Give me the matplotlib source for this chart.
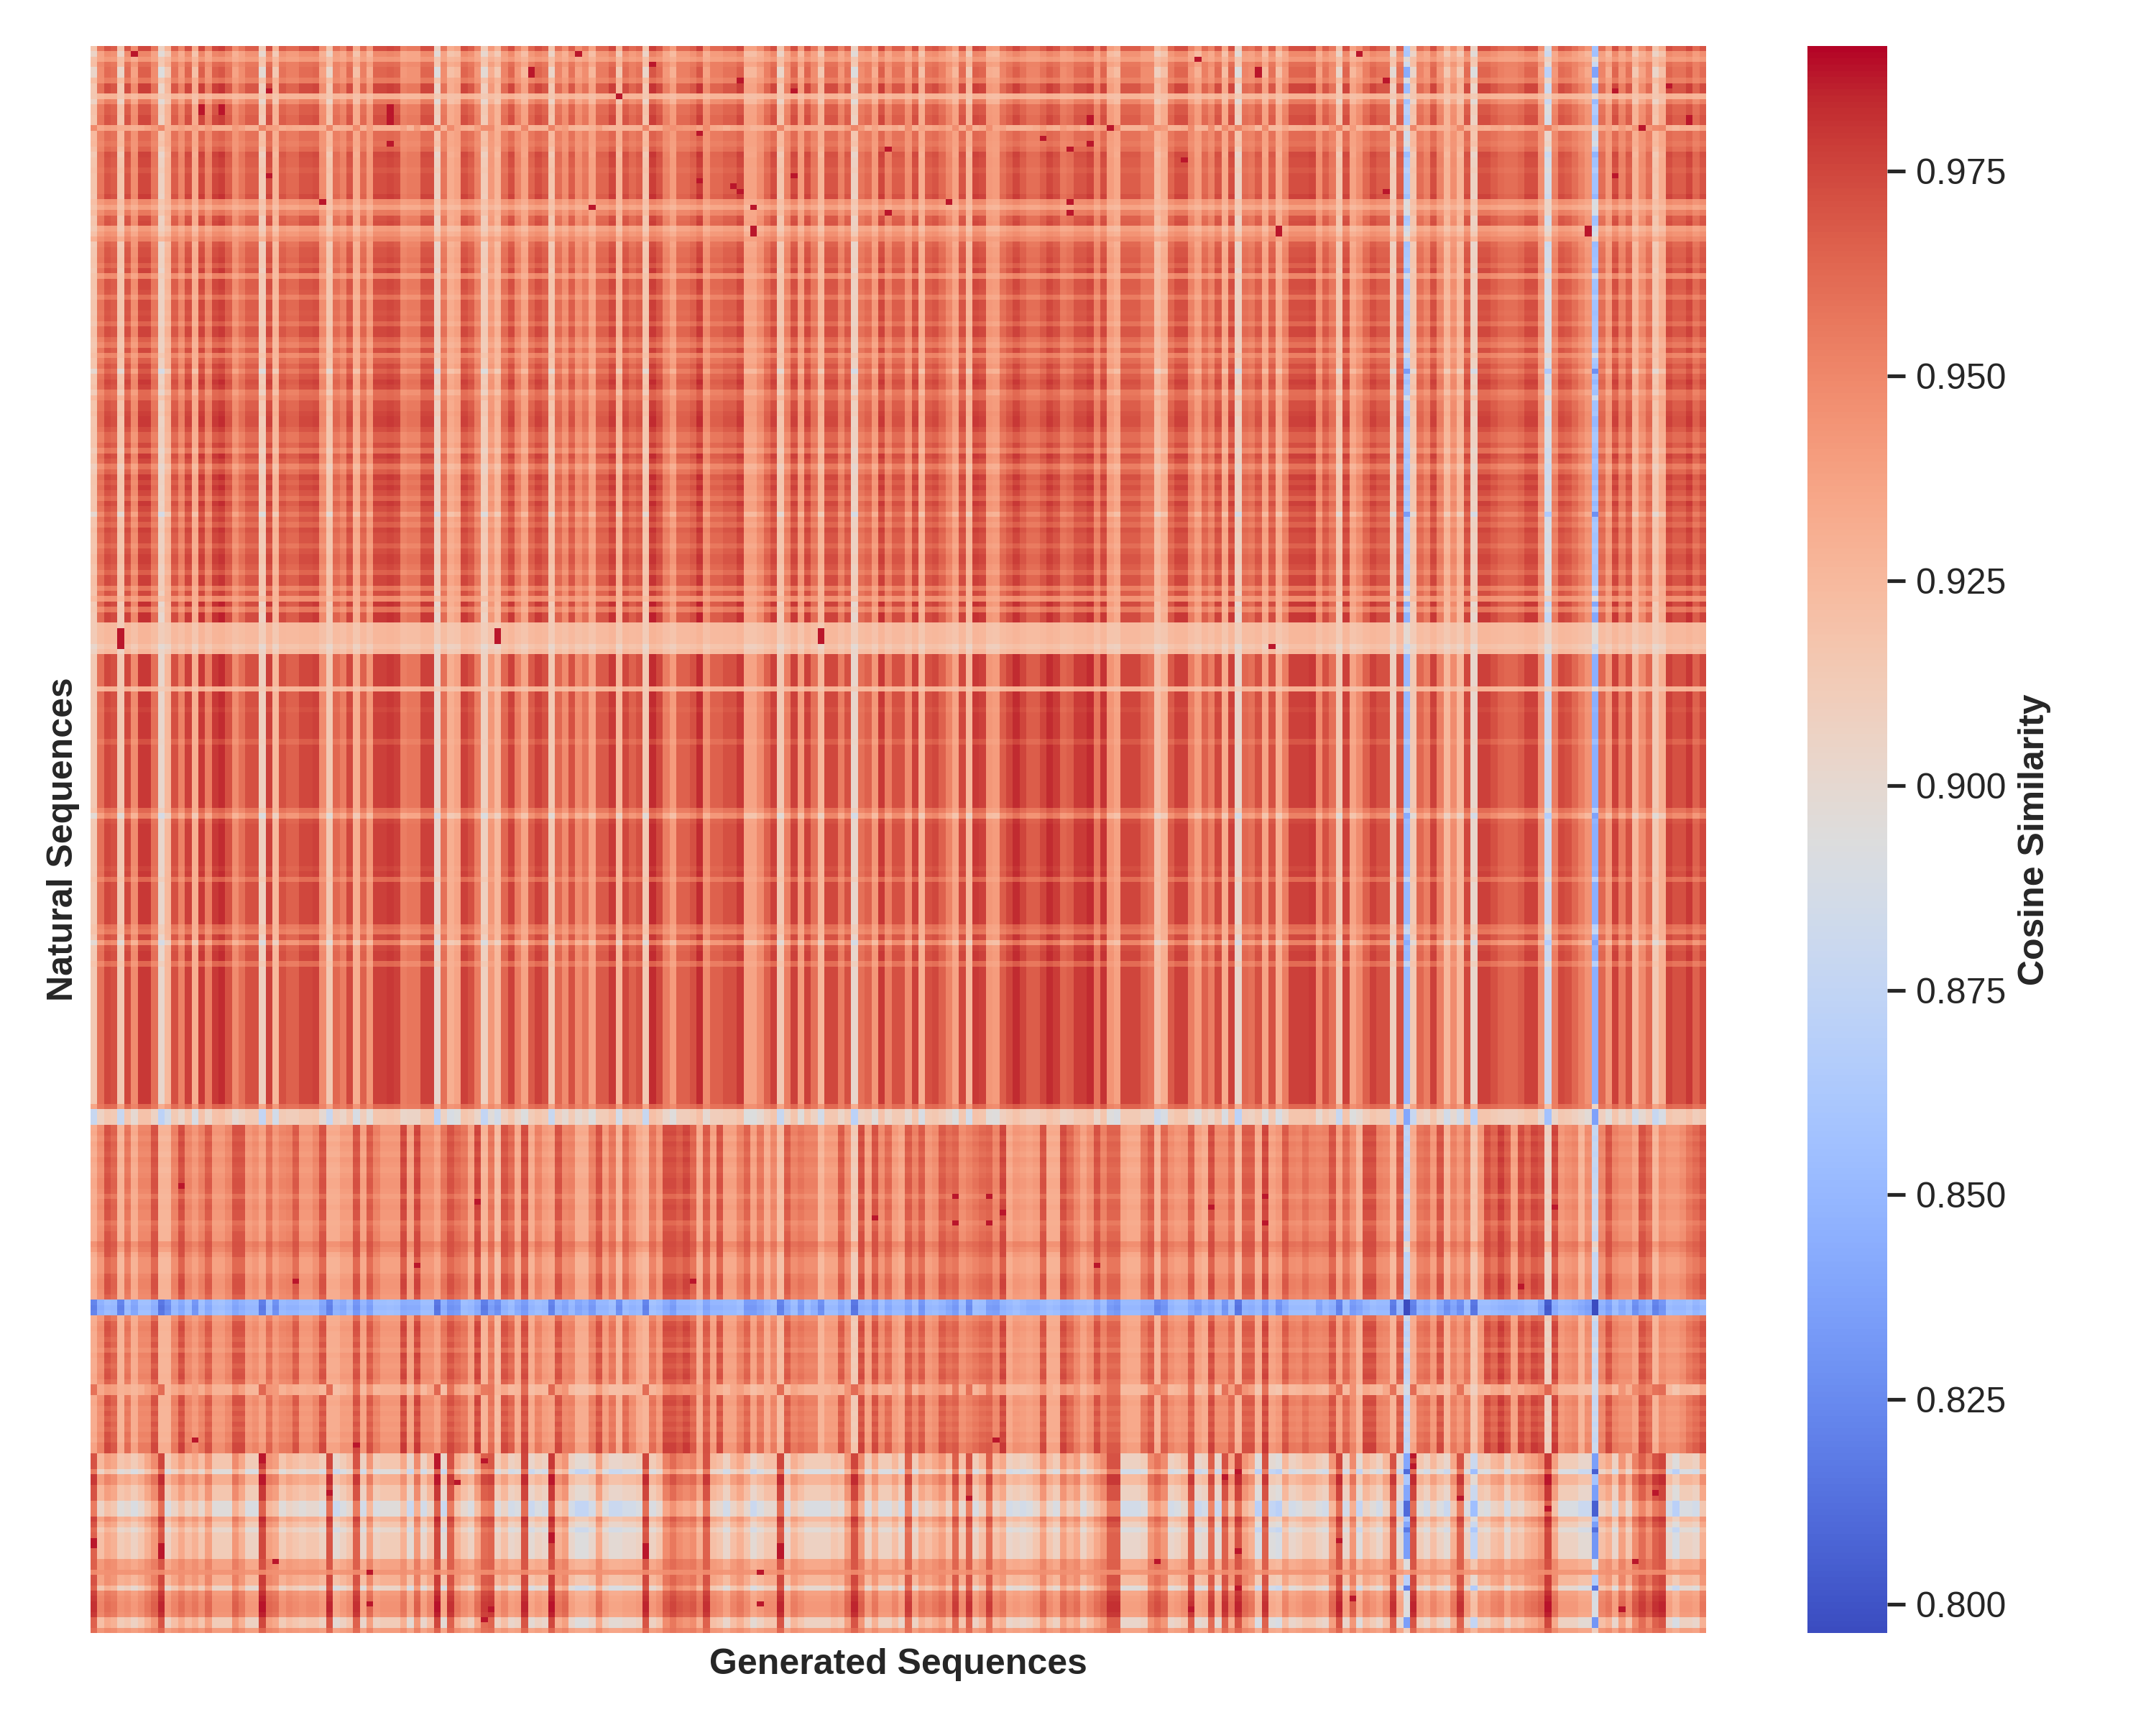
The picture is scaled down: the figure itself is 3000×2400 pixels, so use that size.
import numpy as np
import matplotlib
matplotlib.use("Agg")
import matplotlib.pyplot as plt
import seaborn as sns

# column profiles, in thousandths of cosine similarity
# top and middle part of the heatmap
col_upper = [
    915,955,968,965,915,968,945,972,972,955,905,925,965,948,970,930,972,950,972,975,
    965,945,955,965,965,910,970,925,965,960,960,968,968,970,945,915,958,950,968,930,
    960,940,970,970,972,970,950,953,953,970,970,905,955,930,935,970,965,950,910,940,
    925,958,970,950,935,962,970,965,915,958,945,965,945,955,935,962,962,972,925,968,
    960,965,915,975,968,950,938,960,960,965,975,945,960,960,965,965,972,935,935,945,
    960,970,915,950,970,938,970,955,925,968,968,950,965,905,955,960,940,972,950,965,
    965,945,970,930,965,968,960,948,935,968,925,972,970,940,938,958,965,972,965,958,
    958,965,972,968,955,958,968,968,972,950,970,938,932,965,965,965,955,955,920,930,
    962,970,970,950,938,960,950,968,932,970,905,958,955,965,935,965,930,950,970,970,
    970,972,945,965,955,915,970,935,945,960,970,965,965,910,965,860,915,958,950,970,
    950,925,945,925,968,905,970,970,965,960,958,958,962,970,970,945,885,950,968,965,
    958,950,942,855,958,940,970,950,965,925,945,958,915,930,970,965,965,972,960,968,
]
# rows below the first pale band
col_lower = [
    930,945,968,962,925,955,930,948,948,968,925,925,950,970,948,940,950,965,940,940,
    948,968,968,940,945,935,958,940,948,950,965,940,940,948,968,930,930,938,938,968,
    935,965,950,940,940,940,972,935,972,945,945,935,955,968,960,955,935,972,925,955,
    920,968,960,930,970,930,950,938,935,968,948,950,930,930,950,968,938,955,925,960,
    945,930,925,955,940,970,970,965,972,962,930,965,935,968,935,935,950,962,935,955,
    930,948,920,965,950,955,950,950,925,938,938,965,945,910,970,935,968,945,960,938,
    932,965,950,965,940,945,965,958,962,945,950,955,960,962,948,972,932,940,938,935,
    938,968,930,930,970,960,948,935,945,968,950,962,962,935,932,932,955,965,925,960,
    945,940,942,965,935,930,970,945,945,960,925,965,965,930,972,935,940,965,950,948,
    958,950,948,950,968,935,960,945,925,970,970,950,948,925,965,870,930,955,958,940,
    968,925,950,940,955,915,940,970,962,975,965,935,970,960,972,968,905,972,940,945,
    948,925,945,875,948,968,950,945,945,935,968,960,925,945,940,940,945,955,960,968,
]
# bottom rows, where the pattern turns over
col_bottom = [
    970,920,935,930,910,915,905,915,930,945,975,905,920,935,920,930,915,940,910,910,
    910,945,930,905,905,980,940,935,910,920,915,910,915,915,905,975,895,905,915,970,
    900,940,905,910,910,910,930,895,945,900,920,980,895,970,930,915,905,935,965,968,
    905,920,900,905,975,895,905,900,980,930,940,900,890,890,900,935,905,895,895,900,
    900,905,975,905,915,950,960,950,945,950,930,970,920,915,900,920,930,915,895,905,
    915,915,975,900,925,915,905,905,905,905,915,910,940,975,945,905,930,905,905,920,
    900,965,905,930,920,930,940,920,965,915,970,905,920,965,920,930,900,905,900,905,
    915,940,915,905,940,925,935,905,920,935,945,970,970,900,900,900,905,945,955,945,
    900,905,915,970,895,900,965,895,970,930,975,940,930,885,970,890,885,920,900,905,
    915,915,905,900,940,975,900,945,890,920,910,900,920,970,895,825,975,910,900,920,
    905,895,930,970,905,870,910,905,920,925,900,920,915,930,935,945,980,935,905,905,
    905,895,895,820,920,930,900,940,915,950,965,950,970,975,900,885,905,905,900,930,
]

# level and contrast of every row
row_level = [
    955,935,935,948,945,945,945,956,956,925,940,953,953,955,955,935,950,950,948,950,
    955,955,955,953,955,955,955,955,957,940,932,945,953,955,932,938,945,950,953,953,
    955,950,955,940,955,955,953,945,955,955,953,955,948,957,957,950,945,955,943,950,
    955,945,955,958,957,945,950,955,955,958,958,958,955,950,950,955,945,958,955,943,
    950,958,955,958,955,950,958,955,945,955,950,958,955,955,950,955,958,958,955,950,
    958,958,945,955,940,958,945,958,958,922,922,922,922,915,920,957,957,957,957,957,
    957,925,957,957,957,955,957,957,957,957,957,952,957,957,957,957,957,957,957,957,
    957,957,957,957,948,935,955,957,957,957,957,957,957,957,957,955,957,948,957,957,
    957,957,957,957,957,957,948,945,955,935,955,957,957,948,957,957,957,957,957,957,
    957,957,957,957,957,957,957,957,957,957,957,957,957,957,957,957,957,957,957,957,
    955,905,905,905,950,952,948,952,950,948,952,950,948,950,952,952,950,945,950,952,
    950,950,945,948,950,950,958,955,950,945,945,945,950,952,952,950,948,845,842,845,
    945,950,952,950,948,950,945,952,950,948,950,952,948,935,935,950,952,948,950,948,
    950,948,952,950,955,955,928,928,928,908,941,941,928,928,928,908,908,908,938,928,
    915,923,923,923,923,923,943,943,945,938,938,918,948,951,953,953,951,923,923,945,
]
row_gain = [
    1.0,.8,.4,.7,1.1,1.1,.6,1.1,1.1,.25,.9,.9,.9,1.0,1.0,.3,.7,.7,.6,.8,
    1.1,1,1,.9,1,1,1,1,1.1,.5,.4,.6,1,1,.5,.5,.4,1,1,1,
    1,.9,1.1,.6,1,1,1,.8,1,1,1,1,.9,1,1,.9,.8,1,.6,.9,
    1,1.2,1,1.1,1,.9,.7,1,1,1,1.1,1.1,1,.9,.9,1,.9,1.1,1,.9,
    1,1.1,1,1.1,1,.9,1.1,1,1.2,1,.9,1,1,1,.9,1,1,1,1,.9,
    1,1,.7,1,.45,1.2,.8,1.2,1.2,.25,.25,.25,.25,.35,.35,1.15,1.15,1.15,1.15,1.15,
    1.15,.3,1.15,1.15,1.15,1.1,1.15,1.15,1.15,1.15,1.15,1,1.15,1.15,1.15,1.15,1.15,1.15,1.15,1.15,
    1.15,1.15,1.15,1.15,.8,1,1.1,1.15,1.15,1.15,1.15,1.15,1.15,1.15,1.15,1.1,1.15,.8,1.15,1.15,
    1.15,1.15,1.15,1.15,1.15,1.15,.8,.7,1.1,1,1.1,1.15,1.15,.8,1.15,1.15,1.15,1.15,1.15,1.15,
    1.15,1.15,1.15,1.15,1.15,1.15,1.15,1.15,1.15,1.15,1.15,1.15,1.15,1.15,1.15,1.15,1.15,1.15,1.15,1.15,
    .5,.7,.7,.7,1,1,1,1,1,1,1,1,1,1,1,1,1,.8,1,1,
    1,1,.8,.9,1,1,.7,.8,1,.9,.9,.9,1,1,1,1,.9,.6,.6,.6,
    .8,1,1,1,.9,1,.8,1,1,.9,1,1,.9,.5,.5,1,1,.9,1,.9,
    1,.9,1,1,1,1,.9,.9,.9,1,.8,.8,.9,.9,.9,1,1,1,.8,.9,
    1,.9,.9,.9,.9,.9,.5,.5,.1,.7,.7,1,.6,.6,.6,.6,.6,.9,.9,.35,
]

# pale rows in the upper part that follow the bottom pattern instead
inverted_rows = [15, 253, 254]
b_dark_cols = list(range(135, 157))

# single very dark cells (row, column)
hot_cells = [
    (1,6),(8,26),(11,16),(12,16),(11,19),(12,19),(11,44),(12,44),(13,44),(14,44),(18,44),(24,26),(29,34),
    (1,72),(4,65),(5,65),(3,83),(6,96),(8,104),(9,78),(16,90),(19,118),(25,90),(26,95),(27,96),(30,74),
    (30,98),(31,118),(34,98),(35,98),(24,104),(2,164),(1,188),(13,148),(14,148),(15,151),(17,141),(18,148),
    (19,145),(21,162),(29,127),(29,145),(31,145),(34,176),(35,176),(4,173),(5,173),(6,192),(7,234),(8,226),
    (13,237),(14,237),(15,230),(24,226),(27,192),(34,222),(35,222),
    (110,4),(111,4),(112,4),(113,4),(110,60),(111,60),(112,60),(110,108),(111,108),(112,108),(113,175),
    (215,13),(218,57),(230,48),(233,30),(217,128),(217,133),(220,135),(221,116),(222,128),(222,133),
    (230,149),(233,89),(217,174),(222,174),(219,166),(219,217),(234,212),
    (263,15),(264,39),(266,25),(267,25),(266,51),(267,51),(268,51),(267,58),(271,54),(273,35),(282,0),(283,0),
    (283,10),(284,10),(285,10),(281,68),(282,68),(283,82),(284,82),(285,82),(283,102),(284,102),(285,102),
    (286,27),(288,41),(288,99),(294,41),(295,59),(297,58),(294,99),(263,134),(274,130),(269,170),(270,168),
    (282,185),(284,170),(286,158),(286,229),(276,216),(274,203),(273,232),(266,196),(268,196),(295,163),
    (295,227),(293,187),(291,170),
]
hot_value = 0.987

upper = np.array(col_upper) / 1000
lower = np.array(col_lower) / 1000
bottom = np.array(col_bottom) / 1000
levels = np.array(row_level) / 1000
gains = np.array(row_gain)

# build the matrix row by row from the profiles above
sim = np.zeros((300, 240))
for i in range(300):
    if i >= 266 or i in inverted_rows:
        profile = bottom
    elif i >= 204 and not 237 <= i <= 239:
        profile = lower
    else:
        profile = upper
    sim[i] = levels[i] + gains[i] * (profile - profile.mean())
    if 115 <= i <= 200 and i != 121:
        sim[i, b_dark_cols] += 0.004
for r, c in hot_cells:
    sim[r, c] = hot_value

sns.set_theme(style="white")
plt.rcParams["font.family"] = ["Liberation Sans", "DejaVu Sans"]

fig = plt.figure(figsize=(10, 8), dpi=300)
ax = fig.add_axes([126 / 3000, 1 - 2272 / 2400, (2374 - 126) / 3000, (2272 - 64) / 2400])
cax = fig.add_axes([2515 / 3000, 1 - 2272 / 2400, (2626 - 2515) / 3000, (2272 - 64) / 2400])

sns.heatmap(sim, ax=ax, cbar_ax=cax, cmap="coolwarm", vmin=0.7965, vmax=0.9903,
            xticklabels=False, yticklabels=False)
ax.set_xlabel("Generated Sequences", fontsize=12, fontweight="bold", labelpad=5)
ax.set_ylabel("Natural Sequences", fontsize=12, fontweight="bold", labelpad=3.5)

cbar = ax.collections[0].colorbar
cbar.set_ticks([0.800, 0.825, 0.850, 0.875, 0.900, 0.925, 0.950, 0.975])
cbar.ax.tick_params(labelsize=12, length=6, width=1.25, color=".15", labelcolor=".15")
cbar.set_label("Cosine Similarity", fontsize=12, fontweight="bold", labelpad=4)
cbar.outline.set_visible(False)

fig.savefig("out.png", dpi=300)
